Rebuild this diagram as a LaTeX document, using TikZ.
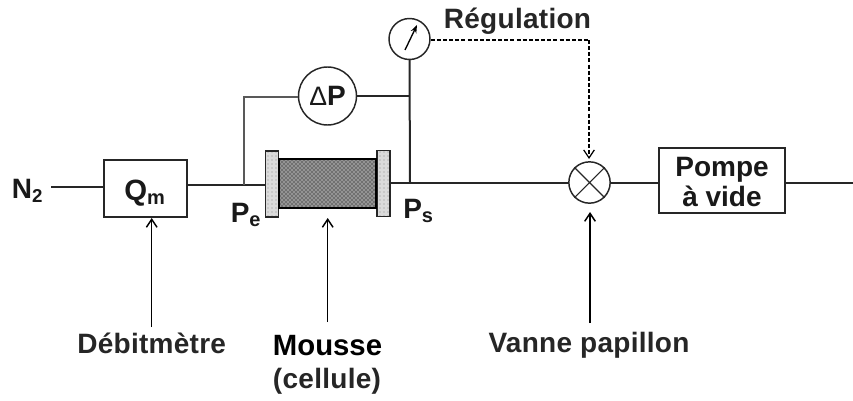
\documentclass[tikz,border=0pt]{standalone}
\usepackage{fontspec}
\setmainfont{Liberation Sans}
\newfontfamily\labfont[LetterSpace=1]{Liberation Sans}
\usetikzlibrary{arrows.meta,patterns}
\definecolor{ln}{gray}{0.15}
\definecolor{thin}{gray}{0.35}
\definecolor{flange}{gray}{0.86}
\tikzset{
  x=0.75pt,y=-0.75pt,
  pipe/.style={draw=ln,line width=1.1pt},
  mainpipe/.style={draw=ln,line width=1.4pt},
  tap/.style={draw=thin,line width=1.1pt},
  block/.style={draw=ln,line width=1.1pt,fill=white,inner sep=0pt,align=center},
  disc/.style={circle,draw=ln,line width=1.1pt,fill=white,inner sep=0pt},
  flangebox/.style={draw=ln,line width=1.1pt,minimum width=9.5pt,minimum height=49.5pt,inner sep=0pt,preaction={fill=flange},pattern=dots,pattern color=black!45},
  lab/.style={inner sep=0pt,anchor=base,font=\labfont\bfseries\fontsize{21}{24}\selectfont,text=black!85},
  sym/.style={inner sep=0pt,anchor=base,font=\bfseries\fontsize{21}{24}\selectfont,text=black!90},
  pointer/.style={draw=black,line width=1.1pt,-{Straight Barb[length=6pt,width=8pt]}},
  sensor/.style={draw=black,line width=0.9pt,dash pattern=on 3pt off 1.6pt,-{Straight Barb[length=6pt,width=8pt]}}
}
\begin{document}
\begin{tikzpicture}
\useasboundingbox (0,0) rectangle (853,400);
% main components
\node[block,minimum width=62pt,minimum height=42.5pt] (qm) at (145.5,188.5) {};
\node[sym,font=\bfseries\fontsize{22}{24}\selectfont] (qmt) at (145,200) {Q\textsubscript{\fontsize{15}{15}\selectfont m}};
\node[flangebox] (fl) at (272,184) {};
\node[flangebox] (fr) at (383.5,183.5) {};
\node[draw=black,line width=1.1pt,minimum width=72.75pt,minimum height=36.75pt,inner sep=0pt,preaction={fill=black!42},pattern=crosshatch dots,pattern color=black] (foam) at (327.5,183.5) {};
\node[disc,minimum size=43.5pt] (dp) at (327.5,96) {};
\node[inner sep=0pt,anchor=base,text=black!90] (dptxt) at (327.5,105) {{\fontsize{20}{20}\selectfont Δ}{\bfseries\fontsize{21}{21}\selectfont P}};
\node[disc,minimum size=30.75pt] (gauge) at (409.5,39) {};
\node[disc,minimum size=31pt] (valve) at (589.5,182.5) {};
\node[block,minimum width=94.5pt,minimum height=48.75pt] (pump) at (722,180.5) {};
\node[sym,anchor=center,align=center,font=\bfseries\fontsize{21}{22.5}\selectfont] (pumpt) at (722,182) {Pompe\\à vide};
\draw[ln,line width=0.8pt] (valve.45)--(valve.225) (valve.135)--(valve.315);
% free ends and junctions
\coordinate (pe) at (244,185);
\coordinate (ps) at (410,183);
\coordinate (dpl) at (244,97);
\coordinate (dpr) at (410,96);
\coordinate (reg) at (589,40);
\coordinate (n2) at (51,187);
\coordinate (out) at (853,183);
\coordinate (nb) at (405,50);
\coordinate (nt) at (417,25);
\coordinate (debs) at (151.7,327);
\coordinate (debe) at (151.7,218);
\coordinate (mous) at (327.7,322);
\coordinate (moue) at (327.7,218);
\coordinate (vans) at (590,323);
\coordinate (vane) at (590,212);
\coordinate (rege) at (589,159);
% lines
\draw[pipe] (n2)--(qm.west|-n2);
\draw[pipe] (qm.east|-pe)--(fl.west|-pe);
\draw[tap] (pe)--(dpl)--(dp.west|-dpl);
\draw[pipe] (dp.east|-dpr)--(dpr);
\draw[pipe,line width=1.5pt] (ps)--(gauge.south);
\draw[mainpipe] (fr.east|-ps)--(valve.west|-ps);
\draw[mainpipe] (valve.east|-ps)--(pump.west|-ps);
\draw[mainpipe] (pump.east|-out)--(out);
\draw[draw=black,line width=1pt,-{Stealth[length=6pt,width=4.5pt]}] (nb)--(nt);
\draw[draw=black,line width=0.9pt,dash pattern=on 3pt off 1.6pt] (gauge.east|-reg)--(reg);
\draw[sensor] (reg)--(rege);
% labels
\node[sym] (n2t) at (27.5,198) {N\textsubscript{\fontsize{14}{14}\selectfont 2}};
\node[sym] (pet) at (246,222) {P\textsubscript{\fontsize{15}{15}\selectfont e}};
\node[sym] (pst) at (418.5,218) {P\textsubscript{\fontsize{15}{15}\selectfont s}};
\node[lab] (regt) at (517.5,28) {Régulation};
\node[lab] (deb) at (151.7,353) {Débitmètre};
\node[inner sep=0pt,anchor=base,font=\bfseries\fontsize{22}{24}\selectfont,text=black] (mou) at (327.5,355) {Mousse};
\node[lab] (cel) at (327,388) {(cellule)};
\node[lab] (van) at (589,352) {Vanne papillon};
% pointers
\draw[pointer] (debs)--(debe);
\draw[pointer] (mous)--(moue);
\draw[pointer] (vans)--(vane);
\end{tikzpicture}
\end{document}
